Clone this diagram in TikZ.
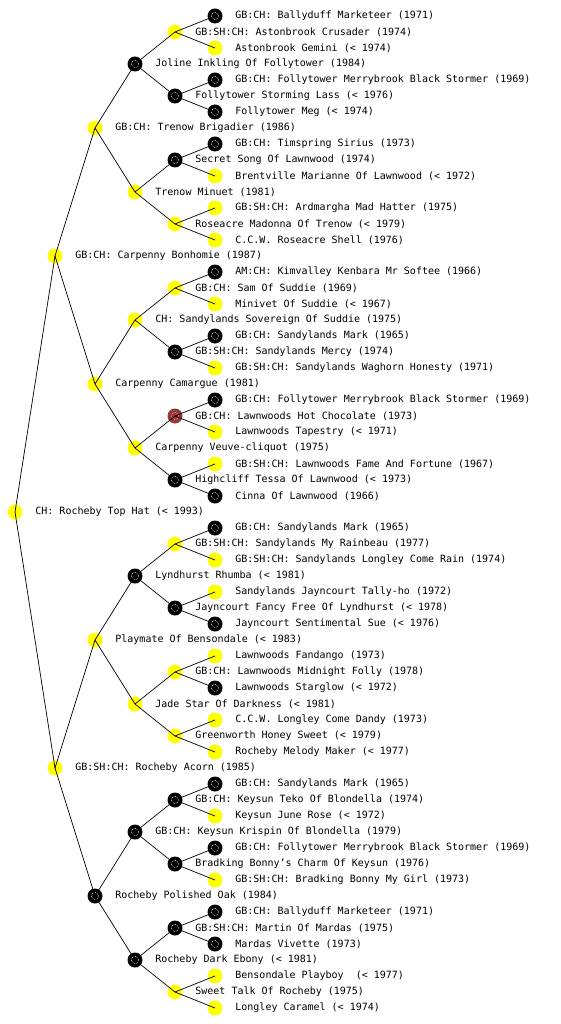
\documentclass[tikz,border=0pt]{standalone}
\usepackage{fontspec}
\newfontfamily\monof{DejaVu Sans Mono}
\definecolor{brownc}{RGB}{150,55,55}
\definecolor{yelc}{RGB}{255,255,0}
\newcommand\dn[5]{\node[#4,label={[lbl]right:{#5}}] (#1) at (#2,#3) {};}
\begin{document}
\begin{tikzpicture}[x=1pt,y=-1pt,
  dog/.style={circle,minimum size=15pt,inner sep=0pt,draw=none},
  yel/.style={dog,fill=yelc},
  blk/.style={dog,fill=black,path picture={\draw[white,densely dotted,line width=0.6pt] (path picture bounding box.center) circle (3.6pt);}},
  brn/.style={dog,fill=brownc,path picture={\draw[white!70!brownc,densely dotted,line width=0.6pt] (path picture bounding box.center) circle (3.6pt);}},
  lbl/.style={font=\monof\fontsize{10}{12}\selectfont,inner sep=0pt,label distance=12.5pt},
  edge/.style={draw=black,line width=0.7pt}]
\useasboundingbox (0,0) rectangle (560,1024);
% root
\dn{n}{15}{512}{yel}{CH: Rocheby Top Hat (< 1993)}
% level 1
\dn{n0}{55}{256}{yel}{GB:CH: Carpenny Bonhomie (1987)}
\dn{n1}{55}{768}{yel}{GB:SH:CH: Rocheby Acorn (1985)}
% level 2
\dn{n00}{95}{128}{yel}{GB:CH: Trenow Brigadier (1986)}
\dn{n01}{95}{384}{yel}{Carpenny Camargue (1981)}
\dn{n10}{95}{640}{yel}{Playmate Of Bensondale (< 1983)}
\dn{n11}{95}{896}{blk}{Rocheby Polished Oak (1984)}
% level 3
\dn{n000}{135}{64}{blk}{Joline Inkling Of Follytower (1984)}
\dn{n001}{135}{192}{yel}{Trenow Minuet (1981)}
\dn{n010}{135}{320}{yel}{CH: Sandylands Sovereign Of Suddie (1975)}
\dn{n011}{135}{448}{yel}{Carpenny Veuve-cliquot (1975)}
\dn{n100}{135}{576}{blk}{Lyndhurst Rhumba (< 1981)}
\dn{n101}{135}{704}{yel}{Jade Star Of Darkness (< 1981)}
\dn{n110}{135}{832}{blk}{GB:CH: Keysun Krispin Of Blondella (1979)}
\dn{n111}{135}{960}{blk}{Rocheby Dark Ebony (< 1981)}
% level 4
\dn{n0000}{175}{32}{yel}{GB:SH:CH: Astonbrook Crusader (1974)}
\dn{n0001}{175}{96}{blk}{Follytower Storming Lass (< 1976)}
\dn{n0010}{175}{160}{blk}{Secret Song Of Lawnwood (1974)}
\dn{n0011}{175}{224}{yel}{Roseacre Madonna Of Trenow (< 1979)}
\dn{n0100}{175}{288}{yel}{GB:CH: Sam Of Suddie (1969)}
\dn{n0101}{175}{352}{blk}{GB:SH:CH: Sandylands Mercy (1974)}
\dn{n0110}{175}{416}{brn}{GB:CH: Lawnwoods Hot Chocolate (1973)}
\dn{n0111}{175}{480}{blk}{Highcliff Tessa Of Lawnwood (< 1973)}
\dn{n1000}{175}{544}{yel}{GB:SH:CH: Sandylands My Rainbeau (1977)}
\dn{n1001}{175}{608}{blk}{Jayncourt Fancy Free Of Lyndhurst (< 1978)}
\dn{n1010}{175}{672}{yel}{GB:CH: Lawnwoods Midnight Folly (1978)}
\dn{n1011}{175}{736}{yel}{Greenworth Honey Sweet (< 1979)}
\dn{n1100}{175}{800}{blk}{GB:CH: Keysun Teko Of Blondella (1974)}
\dn{n1101}{175}{864}{blk}{Bradking Bonny’s Charm Of Keysun (1976)}
\dn{n1110}{175}{928}{blk}{GB:SH:CH: Martin Of Mardas (1975)}
\dn{n1111}{175}{992}{yel}{Sweet Talk Of Rocheby (1975)}
% level 5
\dn{n00000}{215}{16}{blk}{GB:CH: Ballyduff Marketeer (1971)}
\dn{n00001}{215}{48}{yel}{Astonbrook Gemini (< 1974)}
\dn{n00010}{215}{80}{blk}{GB:CH: Follytower Merrybrook Black Stormer (1969)}
\dn{n00011}{215}{112}{blk}{Follytower Meg (< 1974)}
\dn{n00100}{215}{144}{blk}{GB:CH: Timspring Sirius (1973)}
\dn{n00101}{215}{176}{yel}{Brentville Marianne Of Lawnwood (< 1972)}
\dn{n00110}{215}{208}{yel}{GB:SH:CH: Ardmargha Mad Hatter (1975)}
\dn{n00111}{215}{240}{yel}{C.C.W. Roseacre Shell (1976)}
\dn{n01000}{215}{272}{blk}{AM:CH: Kimvalley Kenbara Mr Softee (1966)}
\dn{n01001}{215}{304}{yel}{Minivet Of Suddie (< 1967)}
\dn{n01010}{215}{336}{blk}{GB:CH: Sandylands Mark (1965)}
\dn{n01011}{215}{368}{yel}{GB:SH:CH: Sandylands Waghorn Honesty (1971)}
\dn{n01100}{215}{400}{blk}{GB:CH: Follytower Merrybrook Black Stormer (1969)}
\dn{n01101}{215}{432}{yel}{Lawnwoods Tapestry (< 1971)}
\dn{n01110}{215}{464}{yel}{GB:SH:CH: Lawnwoods Fame And Fortune (1967)}
\dn{n01111}{215}{496}{blk}{Cinna Of Lawnwood (1966)}
\dn{n10000}{215}{528}{blk}{GB:CH: Sandylands Mark (1965)}
\dn{n10001}{215}{560}{yel}{GB:SH:CH: Sandylands Longley Come Rain (1974)}
\dn{n10010}{215}{592}{yel}{Sandylands Jayncourt Tally-ho (1972)}
\dn{n10011}{215}{624}{blk}{Jayncourt Sentimental Sue (< 1976)}
\dn{n10100}{215}{656}{yel}{Lawnwoods Fandango (1973)}
\dn{n10101}{215}{688}{blk}{Lawnwoods Starglow (< 1972)}
\dn{n10110}{215}{720}{yel}{C.C.W. Longley Come Dandy (1973)}
\dn{n10111}{215}{752}{yel}{Rocheby Melody Maker (< 1977)}
\dn{n11000}{215}{784}{blk}{GB:CH: Sandylands Mark (1965)}
\dn{n11001}{215}{816}{yel}{Keysun June Rose (< 1972)}
\dn{n11010}{215}{848}{blk}{GB:CH: Follytower Merrybrook Black Stormer (1969)}
\dn{n11011}{215}{880}{yel}{GB:SH:CH: Bradking Bonny My Girl (1973)}
\dn{n11100}{215}{912}{blk}{GB:CH: Ballyduff Marketeer (1971)}
\dn{n11101}{215}{944}{blk}{Mardas Vivette (1973)}
\dn{n11110}{215}{976}{yel}{Bensondale Playboy \ (< 1977)}
\dn{n11111}{215}{1008}{yel}{Longley Caramel (< 1974)}
% edges
\foreach \p in {n,n0,n1,n00,n01,n10,n11,n000,n001,n010,n011,n100,n101,n110,n111,
  n0000,n0001,n0010,n0011,n0100,n0101,n0110,n0111,n1000,n1001,n1010,n1011,n1100,n1101,n1110,n1111}{
  \draw[edge] (\p.center) -- (\p0.center);
  \draw[edge] (\p.center) -- (\p1.center);
}
\end{tikzpicture}
\end{document}
